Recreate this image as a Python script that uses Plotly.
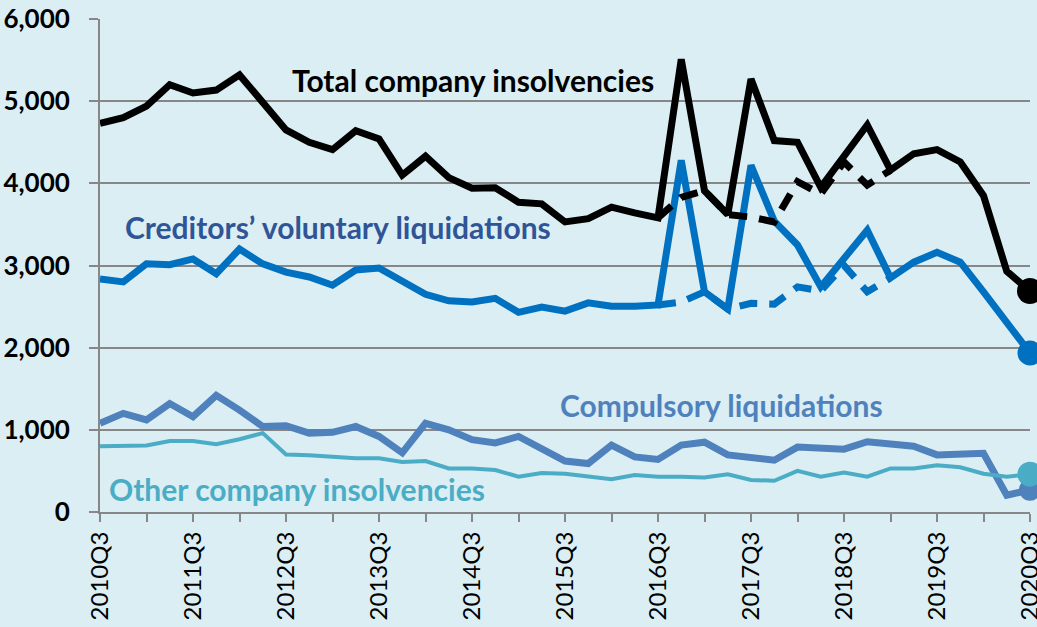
import plotly.graph_objects as go

quarters = [f"{y}Q{q}" for y in range(2010, 2021) for q in range(1, 5)]
quarters = quarters[2:2 + 41]  # 2010Q3 .. 2020Q3

total = [4730, 4800, 4940, 5200, 5100, 5135, 5320, 4980, 4650, 4500,
         4410, 4640, 4540, 4100, 4330, 4070, 3940, 3945, 3770, 3750,
         3530, 3570, 3710, 3640, 3580, 5510, 3910, 3620, 5270, 4520,
         4500, 3950, 4340, 4710, 4160, 4360, 4410, 4260, 3850, 2930,
         2690]
total_alt = [None] * 24 + [3580, 3830, 3910, 3620, 3590, 3530, 4020, 3870,
                           4260, 3980, 4160]
cvl = [2835, 2800, 3020, 3010, 3080, 2900, 3200, 3020, 2920, 2860,
       2760, 2945, 2970, 2810, 2650, 2570, 2555, 2600, 2430, 2495,
       2445, 2545, 2505, 2505, 2520, 4280, 2680, 2470, 4220, 3540,
       3250, 2740, 3090, 3430, 2850, 3040, 3160, 3040, 2680, 2310,
       1935]
cvl_alt = [None] * 24 + [2520, 2555, 2680, 2470, 2540, 2530, 2740, 2690,
                         3000, 2680, 2850]
compulsory = [1080, 1200, 1120, 1320, 1160, 1420, 1240, 1040, 1050, 960,
              970, 1040, 920, 720, 1080, 1000, 880, 840, 920, 780,
              620, 590, 815, 670, 640, 815, 850, 695, 670, 630,
              790, 775, 765, 855, 835, 800, 695, 695, 715, 205,
              270]
other = [800, 810, 810, 865, 865, 825, 885, 960, 700, 690,
         675, 655, 655, 610, 620, 530, 530, 510, 430, 475,
         465, 430, 400, 450, 430, 430, 420, 460, 390, 380,
         500, 430, 480, 430, 530, 530, 570, 545, 465, 430,
         460]

y_ticks = [0, 1000, 2000, 3000, 4000, 5000, 6000]

BG = "#DAEEF3"
C_TOTAL = "#000000"
C_CVL = "#0070C0"
C_COMP = "#4F81BD"
C_OTHER = "#4BACC6"
FONT = "Lato"

x = list(range(len(quarters)))
last = len(quarters) - 1

fig = go.Figure()

def add_line(vals, color, width, dash="solid"):
    fig.add_trace(go.Scatter(x=x, y=vals, mode="lines",
                             line=dict(color=color, width=width, dash=dash),
                             connectgaps=False, hoverinfo="skip",
                             showlegend=False, cliponaxis=False))

def add_end(vals, color, size):
    fig.add_trace(go.Scatter(x=[x[last]], y=[vals[last]], mode="markers",
                             marker=dict(color=color, size=size),
                             hoverinfo="skip", showlegend=False,
                             cliponaxis=False))

add_line(compulsory, C_COMP, 7)
add_line(other, C_OTHER, 4)
add_line(cvl_alt, C_CVL, 7, "18px,12px")
add_line(cvl, C_CVL, 7)
add_line(total_alt, C_TOTAL, 7, "18px,12px")
add_line(total, C_TOTAL, 7)
add_end(total, C_TOTAL, 26)
add_end(cvl, C_CVL, 25)
add_end(compulsory, C_COMP, 22)
add_end(other, C_OTHER, 25)

tickvals = x[::2]
ticktext = [quarters[i] if i % 4 == 0 else "" for i in tickvals]

fig.update_xaxes(range=[0, last], tickvals=tickvals, ticktext=ticktext,
                 tickangle=-90, ticks="outside", ticklen=8, tickwidth=2,
                 tickcolor="#878787", showline=True, linecolor="#878787",
                 linewidth=2, showgrid=False, zeroline=False,
                 automargin=False, ticklabeloverflow="allow",
                 tickfont=dict(family=FONT, size=24, color="#000000"))
fig.update_yaxes(range=[0, 6000], tickvals=y_ticks,
                 ticktext=[f"{v:,}" for v in y_ticks],
                 ticks="outside", ticklen=9, tickwidth=2, tickcolor="#878787",
                 showline=True, linecolor="#878787", linewidth=2,
                 showgrid=True, gridcolor="#878787", gridwidth=2,
                 zeroline=False, ticklabelstandoff=14, automargin=False,
                 ticklabeloverflow="allow",
                 tickfont=dict(family=FONT, size=26, color="#000000",
                               weight="bold"))

labels = [
    ("Total company insolvencies", 473, 80, C_TOTAL),
    ("Creditors’ voluntary liquidations", 338, 227, "#2F5597"),
    ("Compulsory liquidations", 721, 405, C_COMP),
    ("Other company insolvencies", 297, 489, C_OTHER),
]
for text, px, py, col in labels:
    fig.add_annotation(text=f"<b>{text}</b>", xref="paper", yref="paper",
                       x=(px - 100) / 930, y=(512 - py) / 493,
                       showarrow=False, xanchor="center", yanchor="middle",
                       font=dict(family=FONT, size=30, color=col))

fig.update_layout(width=1037, height=627, paper_bgcolor=BG, plot_bgcolor=BG,
                  margin=dict(l=100, r=7, t=19, b=115))

fig.write_html("out.html", config={"displayModeBar": False},
               post_script="document.body.style.margin='0';"
                           "document.body.style.overflow='hidden';")
